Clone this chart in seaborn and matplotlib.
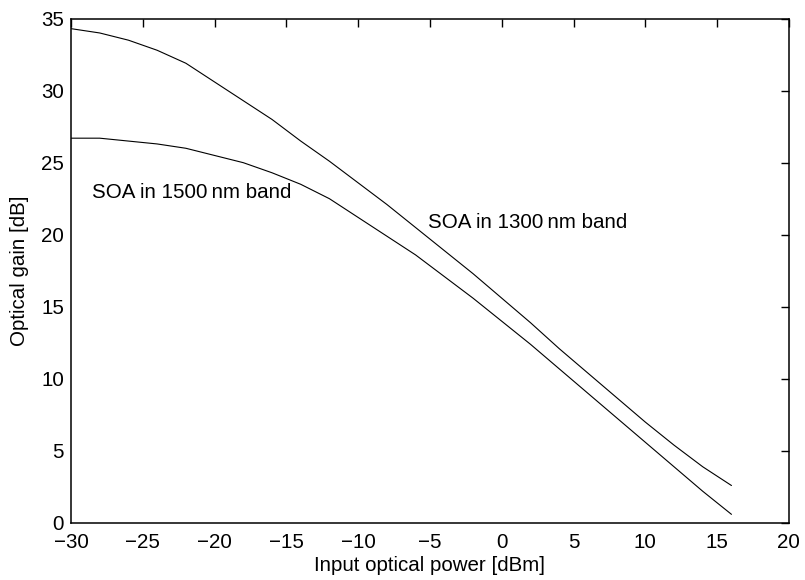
import numpy as np
import pandas as pd
import matplotlib
matplotlib.use("Agg")
import matplotlib.pyplot as plt
import seaborn as sns

# Input optical power [dBm]
power_dbm = [-30, -28, -26, -24, -22, -20, -18, -16, -14, -12, -10, -8,
             -6, -4, -2, 0, 2, 4, 6, 8, 10, 12, 14, 16]

# Gain of the SOA in the 1300 nm band [dB]
gain_1300 = [34.3, 34.0, 33.5, 32.8, 31.9, 30.6, 29.3, 28.0, 26.5, 25.1, 23.6, 22.1,
             20.5, 18.9, 17.3, 15.6, 13.9, 12.1, 10.4, 8.7, 7.0, 5.4, 3.9, 2.6]

# Gain of the SOA in the 1500 nm band [dB]
gain_1500 = [26.7, 26.7, 26.5, 26.3, 26.0, 25.5, 25.0, 24.3, 23.5, 22.5, 21.2, 19.9,
             18.6, 17.1, 15.6, 14.0, 12.4, 10.7, 9.0, 7.3, 5.6, 3.9, 2.2, 0.6]

series_labels = ["SOA in 1300\u2009nm band", "SOA in 1500\u2009nm band"]

df = pd.DataFrame({
    "power": power_dbm * 2,
    "gain": gain_1300 + gain_1500,
    "band": [series_labels[0]] * len(power_dbm) + [series_labels[1]] * len(power_dbm),
})

sns.set_theme(style="white")
plt.rcParams["font.family"] = ["Liberation Sans", "DejaVu Sans"]
plt.rcParams["font.size"] = 14.8

fig = plt.figure(figsize=(8.05, 5.80), dpi=100)
ax = fig.add_axes([0.0882, 0.0983, 0.8918, 0.8697])

sns.lineplot(data=df, x="power", y="gain", units="band", estimator=None,
             color="black", linewidth=0.8, ax=ax, legend=False)

ax.set_xlim(-30, 20)
ax.set_ylim(0, 35)
ax.set_xticks(np.arange(-30, 21, 5))
ax.set_yticks(np.arange(0, 36, 5))
ax.set_xlabel("Input optical power [dBm]", fontsize=14.8, color="black", labelpad=3)
ax.set_ylabel("Optical gain [dB]", fontsize=14.8, color="black", labelpad=9)

ax.tick_params(direction="in", length=6, width=1.0, top=True, right=True,
               labelsize=14.8, colors="black")
ax.tick_params(axis="x", pad=7)
ax.tick_params(axis="y", pad=5)
for s in ax.spines.values():
    s.set_visible(True)
    s.set_color("black")
    s.set_linewidth(1.1)

ax.text(-28.55, 22.95, series_labels[1], fontsize=14.8, va="center", ha="left", color="black")
ax.text(-5.15, 20.85, series_labels[0], fontsize=14.8, va="center", ha="left", color="black")

fig.savefig("out.png", dpi=100, facecolor="white")
